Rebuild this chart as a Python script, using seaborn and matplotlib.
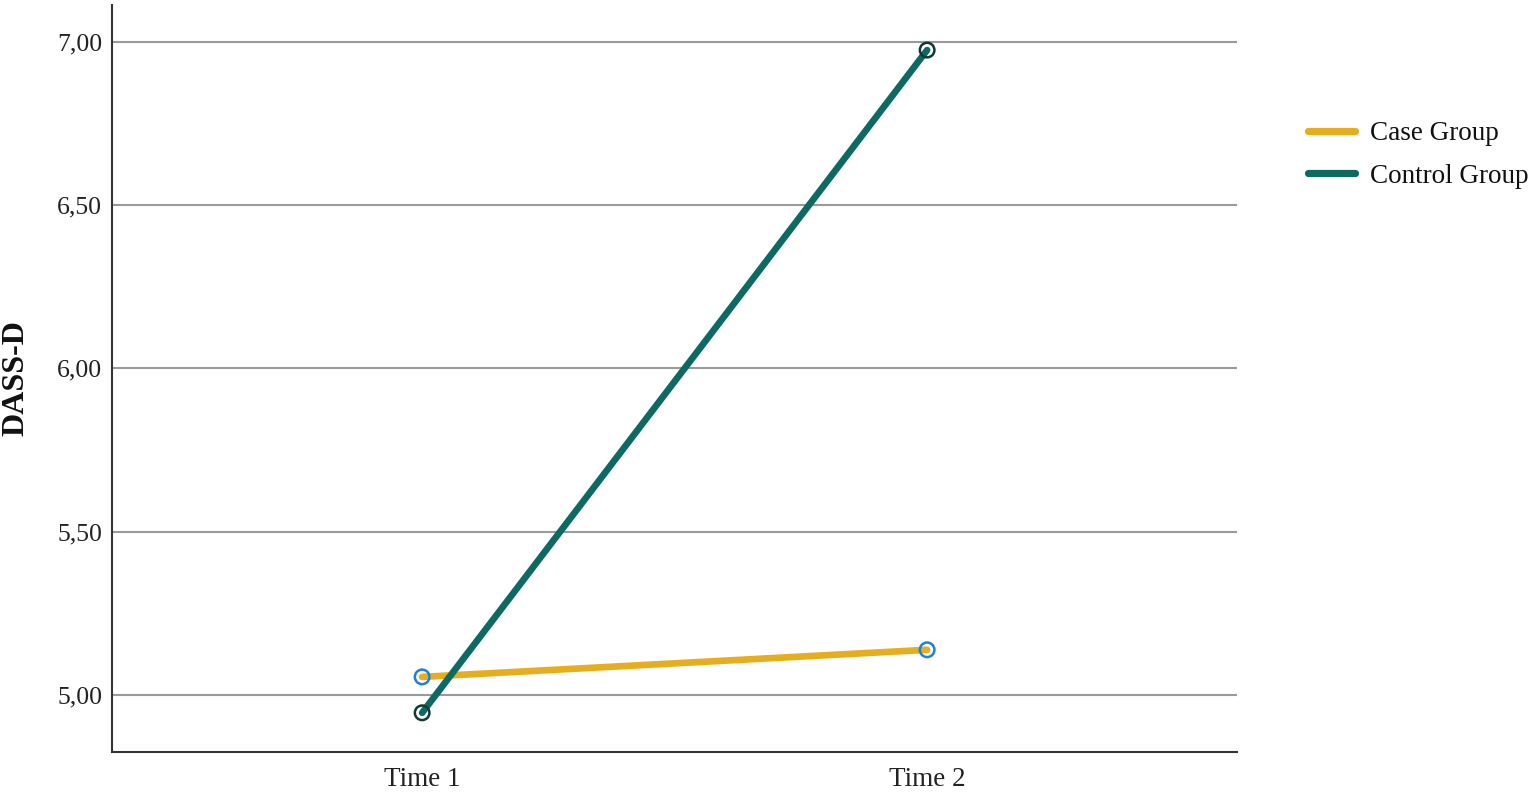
import matplotlib
matplotlib.use("Agg")
import matplotlib.pyplot as plt
import seaborn as sns
import pandas as pd
from matplotlib.lines import Line2D
from matplotlib.ticker import FuncFormatter

times = ["Time 1", "Time 2"]
groups = ["Case Group", "Control Group"]
case_vals = [5.055, 5.138]
control_vals = [4.945, 6.975]
yticks = [5.0, 5.5, 6.0, 6.5, 7.0]

line_colors = {"Case Group": "#E6AE1E", "Control Group": "#0D6A63"}
marker_edges = {"Case Group": "#1E7FE0", "Control Group": "#113A36"}

df = pd.DataFrame({
    "Time": times * 2,
    "DASS-D": case_vals + control_vals,
    "Group": [groups[0]] * 2 + [groups[1]] * 2,
})
df["x"] = df["Time"].map({t: i for i, t in enumerate(times)})

sns.set_style("white")
plt.rcParams["font.family"] = ["Liberation Serif", "DejaVu Serif"]

fig = plt.figure(figsize=(15.35, 7.96), dpi=100)
ax = fig.add_axes([0.073, 0.0553, 0.733, 0.9384])

for ytk in yticks:
    ax.axhline(ytk, color="#9a9a9a", lw=1.5, zorder=0)

sns.lineplot(data=df, x="x", y="DASS-D", hue="Group", palette=line_colors,
             lw=4.8, ax=ax, legend=False, zorder=2, estimator=None)
for g in groups:
    sub = df[df["Group"] == g]
    sns.scatterplot(data=sub, x="x", y="DASS-D", s=110, facecolor="none",
                    edgecolor=marker_edges[g], linewidth=1.8, ax=ax, zorder=3, legend=False)

ax.set_xlim(-0.614, 1.614)
ax.set_ylim(4.825, 7.113)
ax.set_xticks([0, 1])
ax.set_xticklabels(times)
ax.set_yticks(yticks)
ax.yaxis.set_major_formatter(FuncFormatter(lambda v, p: f"{v:.2f}".replace(".", ",")))
ax.tick_params(axis="y", labelsize=18.5, length=0, pad=7, colors="#222222")
ax.tick_params(axis="x", labelsize=19.5, length=0, pad=11, colors="#222222")
ax.set_xlabel("")
ax.set_ylabel("DASS-D", fontsize=23, fontweight="bold", labelpad=19, color="#111111")

for s in ["top", "right"]:
    ax.spines[s].set_visible(False)
for s in ["left", "bottom"]:
    ax.spines[s].set_color("#333333")
    ax.spines[s].set_linewidth(1.5)

handles = [Line2D([0], [0], color=line_colors[g], lw=5.2) for g in groups]
leg = fig.legend(handles, groups, loc="upper left", bbox_to_anchor=(1308 / 1535, 1 - 121 / 796),
                 frameon=False, fontsize=19.5, handlelength=1.73, labelspacing=0.66,
                 handletextpad=0.55, borderpad=0, borderaxespad=0)
for t in leg.get_texts():
    t.set_color("#111111")

fig.savefig("out.png", dpi=100)
